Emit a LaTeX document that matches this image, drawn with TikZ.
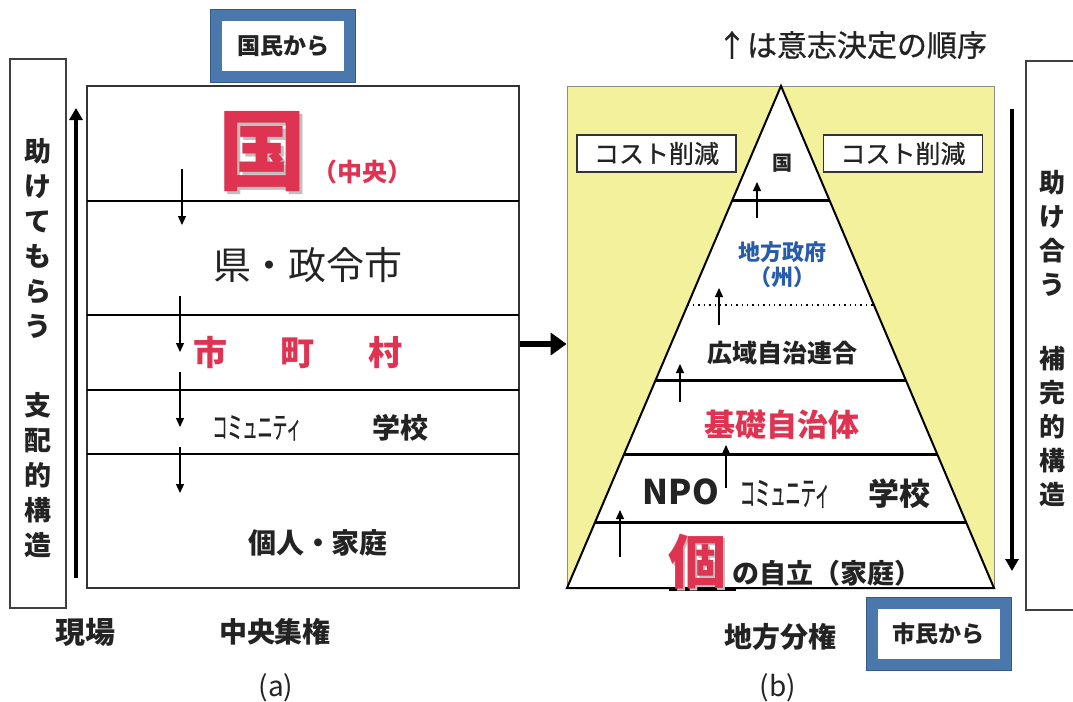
\documentclass[tikz,border=0pt]{standalone}
\usepackage{fontspec}
\usepackage{graphicx}
\setmainfont{Noto Sans CJK JP}
\newfontfamily\jpmedium[FakeBold=0.8]{Noto Sans CJK JP}
\usetikzlibrary{arrows.meta, positioning, calc}

\definecolor{kred}{RGB}{222,52,82}
\definecolor{kblue}{RGB}{40,92,170}
\definecolor{frameblue}{RGB}{74,120,172}
\definecolor{framedark}{RGB}{52,90,138}
\definecolor{pyryellow}{RGB}{244,241,156}
\definecolor{ink}{RGB}{35,35,35}

\newcommand{\narrow}[2]{\scalebox{#1}[1]{#2}}

\begin{document}
\begin{tikzpicture}[
    x=0.5pt, y=-0.5pt,
    every node/.style={inner sep=0pt, text=ink},
    sidebox/.style={draw=black!75, line width=0.6pt, minimum width=28pt, minimum height=274.5pt},
    vtext/.style={align=center, font=\fontsize{13.5}{17.5}\bfseries},
    tierline/.style={line width=1pt},
    layer/.style={line width=1.5pt},
    thinarrow/.style={-{Triangle[length=4.5pt,width=4pt]}, line width=0.6pt},
    bigarrow/.style={-{Triangle[length=6pt,width=6.5pt]}, line width=2pt},
    flowarrow/.style={-{Triangle[length=8pt,width=11pt]}, line width=3pt},
    fromframe/.style={draw=frameblue, line width=5.5pt, fill=white, minimum width=66.5pt, minimum height=30.5pt,
        font=\fontsize{11.5}{14}\bfseries, preaction={draw=framedark, line width=6.5pt}},
    costbox/.style={draw=black!80, line width=0.6pt, fill=white, minimum width=79.5pt, minimum height=18.5pt,
        font=\fontsize{12.5}{14}\jpmedium},
    label/.style={font=\fontsize{14}{16}\bfseries}
]
\useasboundingbox (0,0) rectangle (1073,702);

% Left panel: central
\node[sidebox] (helpbox) at (38,333.5) {};
\node[vtext] (helptext) at (38,348) {助\\け\\て\\も\\ら\\う\\[22pt]支\\配\\的\\構\\造};
\coordinate (lupS) at (76,578);
\coordinate (lupE) at (76,108);
\draw[bigarrow] (lupS) -- (lupE);

\node[fromframe] (kokumin) at (283,46) {国民から};
\node[draw=black!80, line width=0.6pt, minimum width=216pt, minimum height=251pt] (centralbox) at (303,337) {};
\foreach \y in {201,315,390,454}
    \draw[tierline] (87,\y) -- (519,\y);

\node[text=black!25, font=\fontsize{44}{46}\bfseries] (kunishadow) at (265,155) {国};
\node[text=kred, font=\fontsize{44}{46}\bfseries] (kuni) at (262,152) {国};
\node[text=kred, font=\fontsize{12.5}{14}\bfseries] (chuo) at (362,172) {（中央）};
\node[font=\fontsize{19}{21}\selectfont] (ken) at (308,265) {県・政令市};
\node[text=kred, font=\fontsize{17}{19}\bfseries] (shichoson) at (298,353) {市\hspace{27pt}町\hspace{27pt}村};
\node[font=\fontsize{15}{17}\jpmedium] (comm1) at (257,428) {\narrow{0.5}{コミュニティ}};
\node[font=\fontsize{14}{15}\bfseries] (gakko1) at (400,428) {学校};
\node[font=\fontsize{14}{16}\bfseries] (kojin) at (318,543) {個人・家庭};

% down arrows
\foreach \i/\x/\a/\b in {1/182/169/225, 2/180/296/352, 3/180/372/427, 4/180/447/493} {
    \coordinate (dn\i a) at (\x,\a);
    \coordinate (dn\i b) at (\x,\b);
    \draw[thinarrow] (dn\i a) -- (dn\i b);
}

\node[label, font=\fontsize{15}{17}\bfseries] (genba) at (85,632) {現場};
\node[label] (shuken) at (275,632) {中央集権};
\node[font=\fontsize{14}{16}\selectfont] (capa) at (276,688) {(a)};

% Right panel: local
\node[fill=pyryellow, draw=black!45, line width=0.4pt, minimum width=213.5pt, minimum height=251pt] (yellowbox) at (780.5,337) {};
\draw[flowarrow] ([yshift=-3.5pt]centralbox.east) -- ([yshift=-3.5pt]yellowbox.west);

\coordinate (apex) at (781,86);
\coordinate (bl) at (567,588);
\coordinate (br) at (994,588);
\filldraw[fill=white, line width=1pt] (apex) -- (bl) -- (br) -- cycle;
\foreach \t in {0.229,0.586,0.735,0.869}
    \draw[layer] ($(apex)!\t!(bl)$) -- ($(apex)!\t!(br)$);
\draw[dotted, line width=0.7pt] ($(apex)!0.436!(bl)$) -- ($(apex)!0.436!(br)$);
\draw[line width=1.8pt] (669,589) -- (736,589);

\node[font=\fontsize{15}{17}\jpmedium] (order) at (852,45) {↑は意志決定の順序};
\node[costbox] (costL) at (656.5,153.5) {コスト削減};
\node[costbox] (costR) at (903,153.5) {コスト削減};

\node[font=\fontsize{10}{12}\bfseries] (kuni2) at (782,163) {国};
\node[text=kblue, font=\fontsize{11}{13}\bfseries] (chiho) at (782,252) {地方政府};
\node[text=kblue, font=\fontsize{11}{13}\bfseries] (shu) at (782,277) {（州）};
\node[font=\fontsize{12.5}{14}\bfseries] (koiki) at (782,353) {広域自治連合};
\node[text=kred, font=\fontsize{15.5}{17}\bfseries] (kiso) at (782,425) {基礎自治体};
\node[font=\fontsize{17}{19}\bfseries] (npo) at (681,492) {NPO};
\node[font=\fontsize{16.5}{18}\jpmedium] (comm2) at (785,494) {\narrow{0.46}{コミュニティ}};
\node[font=\fontsize{15.5}{17}\bfseries] (gakko2) at (899,494) {学校};
\node[text=black!25, font=\fontsize{29}{31}\bfseries] (koshadow) at (699,564) {個};
\node[text=kred, font=\fontsize{29}{31}\bfseries] (ko) at (697,562) {個};
\node[anchor=base west, font=\fontsize{13.5}{15}\bfseries] (jiritsu) at ([xshift=3pt]ko.base east) {の自立（家庭）};

% up arrows
\foreach \i/\x/\a/\b in {1/757/218/182, 2/719/325/288, 3/680/402/364, 4/726/488/445, 5/620/557/510} {
    \coordinate (up\i a) at (\x,\a);
    \coordinate (up\i b) at (\x,\b);
    \draw[thinarrow] (up\i a) -- (up\i b);
}

\coordinate (rdnS) at (1012,109);
\coordinate (rdnE) at (1012,571);
\draw[bigarrow] (rdnS) -- (rdnE);
\node[sidebox, minimum width=27pt] (mutualbox) at (1053,335.5) {};
\node[vtext, font=\fontsize{13}{17}\bfseries] (mutualtext) at (1052,338) {助\\け\\合\\う\\[20pt]補\\完\\的\\構\\造};

\node[fromframe] (shimin) at (938.5,634) {市民から};
\node[label] (bunken) at (780,637) {地方分権};
\node[font=\fontsize{14}{16}\selectfont] (capb) at (778,688) {(b)};

\end{tikzpicture}
\end{document}
